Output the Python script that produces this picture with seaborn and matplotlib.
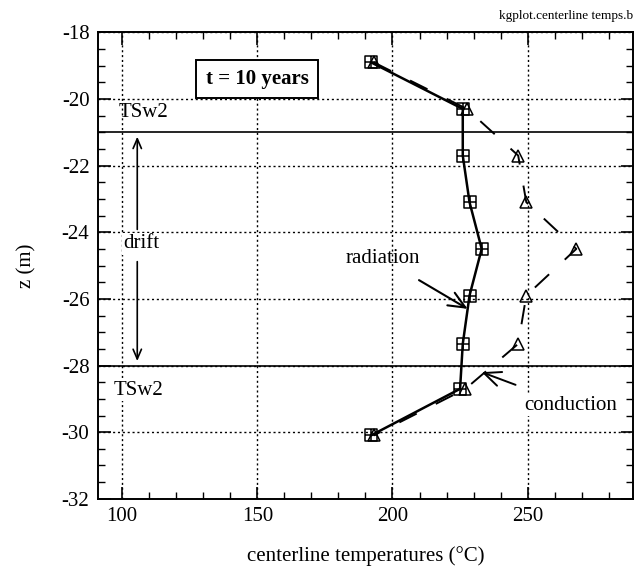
import matplotlib
matplotlib.use('Agg')
import matplotlib.pyplot as plt
import seaborn as sns
import pandas as pd
from matplotlib.path import Path
from matplotlib.ticker import MultipleLocator

# ---- data ----
z = [-18.9, -20.3, -21.7, -23.1, -24.5, -25.9, -27.35, -28.7, -30.1]
radiation = [192, 226, 226, 228.5, 233, 228.5, 226, 225, 192]
conduction = [193, 227.5, 246.5, 249.5, 268, 249.5, 246.5, 227, 193]
layer_bounds = [-21, -28]
x_ticks = [100, 150, 200, 250]
y_ticks = [-32, -30, -28, -26, -24, -22, -20, -18]

df = pd.DataFrame({"z": z, "radiation": radiation, "conduction": conduction})

sns.set_style("ticks")
plt.rcParams['font.family'] = ['Liberation Serif', 'DejaVu Serif']
plt.rcParams['axes.unicode_minus'] = False
plt.rcParams['text.color'] = 'black'
plt.rcParams['axes.labelcolor'] = 'black'
plt.rcParams['xtick.color'] = 'black'
plt.rcParams['ytick.color'] = 'black'

fig = plt.figure(figsize=(6.35, 5.76), dpi=100)
ax = fig.add_axes([0.154, 0.134, 0.843, 0.81])

# square-with-cross marker
boxplus = Path(
    [(-1, -1), (1, -1), (1, 1), (-1, 1), (-1, -1), (0, -1), (0, 1), (-1, 0), (1, 0)],
    [Path.MOVETO, Path.LINETO, Path.LINETO, Path.LINETO, Path.CLOSEPOLY,
     Path.MOVETO, Path.LINETO, Path.MOVETO, Path.LINETO])

sns.lineplot(data=df, x="conduction", y="z", sort=False, estimator=None, ax=ax,
             color="black", lw=1.4, zorder=3)
ln = ax.lines[-1]
ln.set_dashes((10, 11))
ln.set_marker("^")
ln.set_markersize(9)
ln.set_markerfacecolor("none")
ln.set_markeredgecolor("black")
ln.set_markeredgewidth(1.1)

sns.lineplot(data=df, x="radiation", y="z", sort=False, estimator=None, ax=ax,
             color="black", lw=1.8, zorder=4)
ln = ax.lines[-1]
ln.set_marker(boxplus)
ln.set_markersize(9)
ln.set_markerfacecolor("none")
ln.set_markeredgecolor("black")
ln.set_markeredgewidth(1.1)

for b in layer_bounds:
    ax.axhline(b, color="black", lw=1.2, zorder=2)

ax.set_xlim(91, 289)
ax.set_ylim(-32, -18)
ax.set_xticks(x_ticks)
ax.set_yticks(y_ticks)
ax.xaxis.set_minor_locator(MultipleLocator(10))
ax.yaxis.set_minor_locator(MultipleLocator(0.5))
ax.grid(True, which="major", color="black", linestyle=(0, (1.5, 2)), lw=1.0)
ax.tick_params(which="both", direction="in", top=True, right=True, colors="black",
               labelsize=15)
ax.tick_params(which="major", length=9, width=1.2, pad=6)
ax.tick_params(which="minor", length=5, width=1.0)
for s in ax.spines.values():
    s.set_color("black")
    s.set_linewidth(1.4)
ax.set_facecolor("white")

ax.set_xlabel("centerline temperatures (°C)", fontsize=15, labelpad=14)
ax.set_ylabel("z (m)", fontsize=15, labelpad=18)

# annotations
ax.text(150, -19.4, "t = 10 years", fontsize=15, fontweight="bold", ha="center",
        va="center", zorder=6,
        bbox=dict(boxstyle="square,pad=0.45", fc="white", ec="black", lw=1.4))
ax.text(108, -20.4, "TSw2", fontsize=15, ha="center", va="center")
ax.text(106, -28.75, "TSw2", fontsize=15, ha="center", va="center",
        bbox=dict(fc="white", ec="none", pad=1))
ax.text(107, -24.35, "drift", fontsize=15, ha="center", va="center",
        bbox=dict(fc="white", ec="none", pad=1), zorder=5)
arrow = dict(arrowstyle="->,head_length=0.7,head_width=0.3", color="black", lw=1.2)
ax.annotate("", xy=(105.6, -21.05), xytext=(105.6, -24.0), arrowprops=arrow)
ax.annotate("", xy=(105.6, -27.95), xytext=(105.6, -24.8), arrowprops=arrow)

ax.annotate("radiation", xy=(227.8, -26.3), xytext=(196.5, -24.8), fontsize=15,
            ha="center", va="center",
            arrowprops=dict(arrowstyle="->,head_length=0.8,head_width=0.35",
                            color="black", lw=1.5, shrinkA=12, shrinkB=0))
ax.annotate("conduction", xy=(233, -28.2), xytext=(266, -29.2), fontsize=15,
            ha="center", va="center",
            bbox=dict(fc="white", ec="none", pad=1),
            arrowprops=dict(arrowstyle="->,head_length=0.8,head_width=0.35",
                            color="black", lw=1.4, shrinkA=20, shrinkB=0))

fig.text(0.997, 0.972, "kgplot.centerline temps.b", fontsize=9.5, ha="right",
         va="center")

fig.savefig("out.png", dpi=100, facecolor="white")
